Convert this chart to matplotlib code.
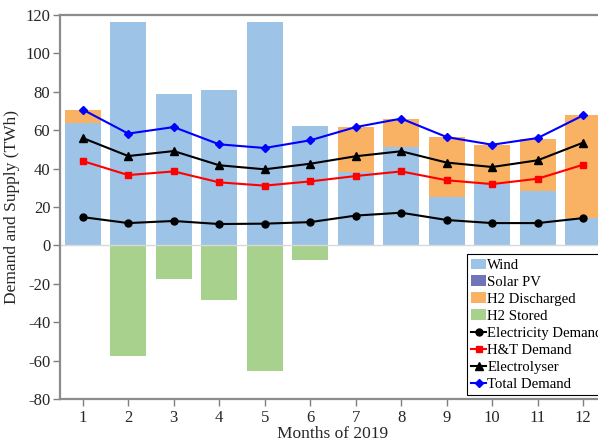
import matplotlib
matplotlib.use('Agg')
import matplotlib.pyplot as plt
import numpy as np

months = [1, 2, 3, 4, 5, 6, 7, 8, 9, 10, 11, 12]

# supply (TWh)
wind = [63.9, 116.3, 79.0, 81.1, 116.3, 62.1, 38.2, 51.2, 25.2, 32.1, 28.3, 14.4]
solar_pv = [0, 0, 0, 0, 0, 0, 0, 0, 0, 0, 0, 0]
h2_discharged = [6.8, 0, 0, 0, 0, 0, 23.4, 14.8, 31.2, 20.3, 27.3, 53.3]
h2_stored = [0, -57.8, -17.4, -28.6, -65.4, -7.8, 0, 0, 0, 0, 0, 0]

# demand (TWh)
elec_demand = [14.7, 11.6, 12.7, 11.1, 11.3, 12.1, 15.5, 17.0, 13.2, 11.6, 11.6, 14.2]
ht_demand = [43.9, 36.6, 38.5, 32.8, 31.1, 33.3, 36.1, 38.5, 33.9, 31.9, 34.7, 42.0]
electrolyser = [55.9, 46.5, 49.1, 41.7, 39.6, 42.5, 46.4, 49.0, 43.1, 40.8, 44.3, 53.5]
total_demand = [70.7, 58.2, 61.6, 52.6, 50.7, 54.7, 61.6, 66.0, 56.4, 52.4, 55.9, 67.7]

plt.rcParams['font.family'] = ['Liberation Serif', 'DejaVu Serif']
plt.rcParams['axes.unicode_minus'] = False

fig = plt.figure(figsize=(5.98, 4.44), dpi=100)
ax = fig.add_axes([0.1003, 0.1014, 0.913, 0.865])

x = np.array(months)
w = 0.8
wind_solar = np.array(wind) + np.array(solar_pv)
b1 = ax.bar(x, wind, w, color='#9dc3e6', linewidth=0, label='Wind')
b2 = ax.bar(x, solar_pv, w, bottom=wind, color='#7074b8', linewidth=0, label='Solar PV')
b3 = ax.bar(x, h2_discharged, w, bottom=wind_solar, color='#f9b264', linewidth=0,
            label='H2 Discharged')
b4 = ax.bar(x, h2_stored, w, color='#a9d18e', linewidth=0, label='H2 Stored')

ax.axhline(0, color='#d9d9d9', linewidth=1.0, zorder=1.5)

l1, = ax.plot(x, elec_demand, color='black', marker='o', markersize=5, linewidth=1.5,
              label='Electricity Demand')
l2, = ax.plot(x, ht_demand, color='red', marker='s', markersize=4.5, linewidth=1.5,
              label='H&T Demand')
l3, = ax.plot(x, electrolyser, color='black', marker='^', markersize=5.5, linewidth=1.5,
              label='Electrolyser')
l4, = ax.plot(x, total_demand, color='blue', marker='D', markersize=4.5, linewidth=1.5,
              label='Total Demand')

ax.set_xlim(0.5, 12.5)
ax.set_ylim(-80, 120)
ax.set_xticks(months)
ax.set_yticks(range(-80, 121, 20))
ax.tick_params(axis='both', labelsize=12, length=5, width=1.0, color='#7f7f7f',
               labelcolor='#262626')
ax.tick_params(axis='x', pad=3)
ax.tick_params(axis='y', pad=2)

for s in ax.spines.values():
    s.set_color('#8c8c8c')
    s.set_linewidth(1.6)

ax.set_xlabel('Months of 2019', fontsize=12.5, color='#262626', labelpad=0)
ax.set_ylabel('Demand and Supply (TWh)', fontsize=12.5, color='#262626', labelpad=4)

handles = [b1, b2, b3, b4, l1, l2, l3, l4]
leg = ax.legend(handles=handles, labels=[h.get_label() for h in handles],
                loc='lower left', bbox_to_anchor=(0.745, 0.01), borderaxespad=0,
                fontsize=10.6, handlelength=1.0, handletextpad=0.1, labelspacing=0.25,
                borderpad=0.3, fancybox=False, framealpha=1, edgecolor='black')
leg.get_frame().set_linewidth(0.8)

fig.savefig('out.png', dpi=100)
